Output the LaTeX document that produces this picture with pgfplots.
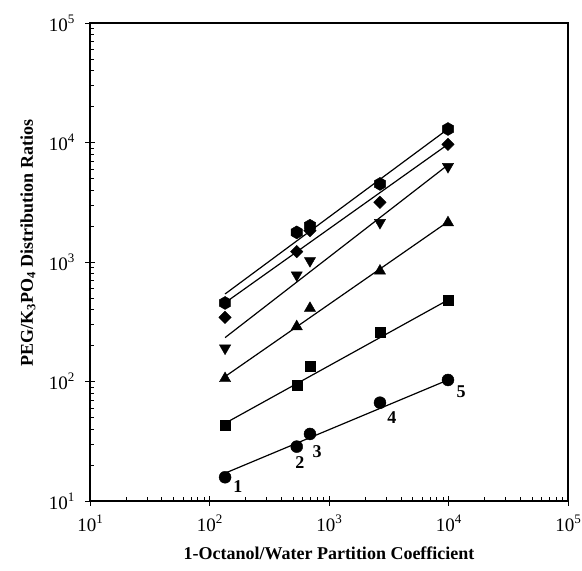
\documentclass[border=0pt]{standalone}
\usepackage{fontspec}
\setmainfont{Liberation Serif}
\usepackage{pgfplots}
\pgfplotsset{compat=1.18}
\pgfdeclareplotmark{hexagon*}{%
  \pgfpathmoveto{\pgfpointpolar{90}{\pgfplotmarksize}}%
  \pgfpathlineto{\pgfpointpolar{150}{\pgfplotmarksize}}%
  \pgfpathlineto{\pgfpointpolar{210}{\pgfplotmarksize}}%
  \pgfpathlineto{\pgfpointpolar{270}{\pgfplotmarksize}}%
  \pgfpathlineto{\pgfpointpolar{330}{\pgfplotmarksize}}%
  \pgfpathlineto{\pgfpointpolar{30}{\pgfplotmarksize}}%
  \pgfpathclose\pgfusepathqfillstroke}
\newcommand{\tp}[1]{10\raisebox{0.42em}{\fontsize{13}{13}\selectfont #1}}
\begin{document}
\begin{tikzpicture}
\begin{axis}[
  scale only axis, width=478pt, height=478pt,
  xmode=log, ymode=log, xmin=10, xmax=1e5, ymin=10, ymax=1e5,
  axis line style={line width=1.6pt},
  xtick={10,100,1000,10000,100000},
  ytick={10,100,1000,10000,100000},
  xticklabels={\tp{1},\tp{2},\tp{3},\tp{4},\tp{5}},
  yticklabels={\tp{1},\tp{2},\tp{3},\tp{4},\tp{5}},
  minor xtick={20,30,40,50,60,70,80,90,200,300,400,500,600,700,800,900,2000,3000,4000,5000,6000,7000,8000,9000,20000,30000,40000,50000,60000,70000,80000,90000},
  minor ytick={20,30,40,50,60,70,80,90,200,300,400,500,600,700,800,900,2000,3000,4000,5000,6000,7000,8000,9000,20000,30000,40000,50000,60000,70000,80000,90000},
  xtick pos=bottom, ytick pos=left,
  tick align=inside,
  major tick length=5pt, minor tick length=4.5pt,
  every tick/.style={black, line width=0.9pt},
  extra x ticks={10,100,1000,10000,100000}, extra x tick labels={},
  extra y ticks={10,100,1000,10000,100000}, extra y tick labels={},
  extra x tick style={tick align=outside},
  extra y tick style={tick align=outside},
  tick label style={font=\fontsize{19}{21}\selectfont},
  xticklabel style={yshift=-10pt},
  yticklabel style={xshift=-12pt},
  label style={font=\bfseries\fontsize{18}{20}\selectfont},
  xlabel={1-Octanol/Water Partition Coefficient},
  ylabel={PEG/K\textsubscript{3}PO\textsubscript{4} Distribution Ratios},
  xlabel style={at={(axis description cs:0.5,-0.109)}, anchor=center},
  ylabel style={at={(axis description cs:-0.1297,0.54)}, anchor=center},
]
% fitted lines
\addplot[black, line width=1.2pt] coordinates {(135,540) (9900,12970)};
\addplot[black, line width=1.2pt] coordinates {(135,456) (9900,9660)};
\addplot[black, line width=1.2pt] coordinates {(135,233) (9900,6490)};
\addplot[black, line width=1.2pt] coordinates {(135,110) (9900,2174)};
\addplot[black, line width=1.2pt] coordinates {(135,44.7) (9900,481)};
\addplot[black, line width=1.2pt] coordinates {(135,17.1) (9900,103)};
% data
\addplot[only marks, mark=hexagon*, mark size=6.5pt, black] coordinates {(135,454) (537,1770) (693,2010) (2670,4500) (9900,12970)};
\addplot[only marks, mark=square*, mark size=4.4pt, black, mark options={rotate=45}] coordinates {(135,344) (537,1220) (693,1830) (2670,3160) (9900,9660)};
\addplot[only marks, mark=triangle*, mark size=6.5pt, black, mark options={rotate=180}] coordinates {(135,190) (537,778) (693,1025) (2670,2135) (9900,6280)};
\addplot[only marks, mark=triangle*, mark size=6.5pt, black] coordinates {(135,106) (537,288) (693,410) (2670,841) (9900,2135)};
\addplot[only marks, mark=square*, mark size=5pt, black] coordinates {(135,43.3) (537,93.5) (693,133) (2670,261) (9900,481)};
\addplot[only marks, mark=*, mark size=6pt, black] coordinates {(135,15.8) (537,28.5) (693,36.4) (2670,66.5) (9900,103)};
% compound numbers
\node[font=\bfseries\fontsize{18}{20}\selectfont] at (axis cs:173,13.1) {1};
\node[font=\bfseries\fontsize{18}{20}\selectfont] at (axis cs:571,20.8) {2};
\node[font=\bfseries\fontsize{18}{20}\selectfont] at (axis cs:794,25.7) {3};
\node[font=\bfseries\fontsize{18}{20}\selectfont] at (axis cs:3365,49.5) {4};
\node[font=\bfseries\fontsize{18}{20}\selectfont] at (axis cs:12740,81.7) {5};
\end{axis}
\pgfresetboundingbox
\path ([shift={(-90pt,-70pt)}]current axis.south west) rectangle ([shift={(14pt,23pt)}]current axis.north east);
\end{tikzpicture}
\end{document}
